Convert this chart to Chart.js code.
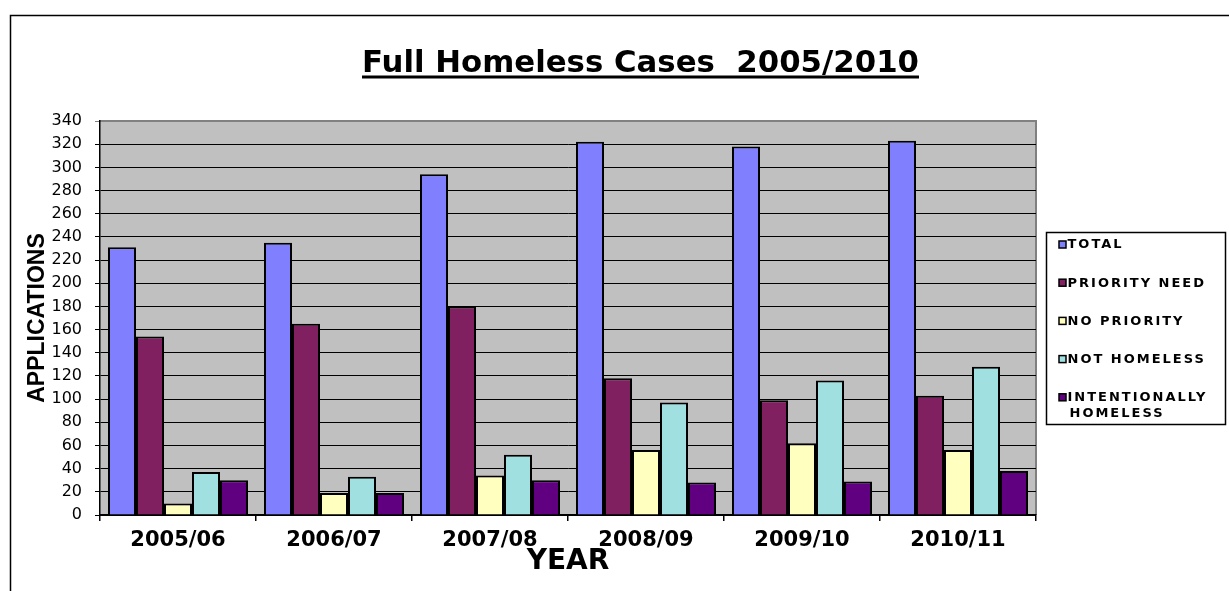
<!DOCTYPE html>
<html><head><meta charset="utf-8">
<script src="https://cdn.jsdelivr.net/npm/chart.js@4.4.1/dist/chart.umd.min.js"></script>
<style>html,body{margin:0;padding:0;background:#fff;overflow:hidden}</style>
</head><body>
<canvas id="c" width="1229" height="591"></canvas>
<script>
const chartTitle = 'Full Homeless Cases  2005/2010';
const xTitle = 'YEAR';
const yTitle = 'APPLICATIONS';
const categories = ['2005/06', '2006/07', '2007/08', '2008/09', '2009/10', '2010/11'];
const seriesNames = ['TOTAL', 'PRIORITY NEED', 'NO PRIORITY', 'NOT HOMELESS', 'INTENTIONALLY HOMELESS'];
const total = [231, 235, 294, 322, 318, 323];
const priorityNeed = [154, 165, 180, 118, 99, 103];
const noPriority = [10, 19, 34, 56, 62, 56];
const notHomeless = [37, 33, 52, 97, 116, 128];
const intentionallyHomeless = [30, 19, 30, 28, 29, 38];
const yMin = 0, yMax = 340, yStep = 20;

const seriesValues = [total, priorityNeed, noPriority, notHomeless, intentionallyHomeless];
const seriesColors = ['#8080ff', '#802060', '#ffffc0', '#a0e0e0', '#600080'];

const framePlugin = {
  id: 'frame',
  beforeDraw(chart) {
    const ctx = chart.ctx, a = chart.chartArea;
    ctx.save();
    ctx.fillStyle = '#fff';
    ctx.fillRect(0, 0, chart.width, chart.height);
    ctx.strokeStyle = '#000';
    ctx.lineWidth = 1.5;
    ctx.strokeRect(10.5, 15.5, chart.width + 40, chart.height + 40);
    ctx.fillStyle = '#c0c0c0';
    ctx.fillRect(a.left, a.top, a.right - a.left, a.bottom - a.top);
    ctx.strokeStyle = '#808080';
    ctx.lineWidth = 2;
    ctx.beginPath();
    ctx.moveTo(a.left, a.top);
    ctx.lineTo(a.right, a.top);
    ctx.lineTo(a.right, a.bottom);
    ctx.stroke();
    // title, underlined
    ctx.font = 'bold 30px "DejaVu Sans"';
    const w = ctx.measureText(chartTitle).width;
    const targetW = 557, cx = 640.5, base = 72;
    ctx.translate(cx, base);
    ctx.scale(targetW / w, 1);
    ctx.fillStyle = '#000';
    ctx.textAlign = 'center';
    ctx.textBaseline = 'alphabetic';
    ctx.fillText(chartTitle, 0, 0);
    ctx.restore();
    ctx.save();
    ctx.fillStyle = '#000';
    ctx.fillRect(cx - targetW / 2, base + 3.5, targetW, 3);
    ctx.restore();
  }
};

const legendPlugin = {
  id: 'boxLegend',
  afterDraw(chart) {
    const ctx = chart.ctx;
    const bx = 1046.5, by = 232.5, bw = 179, bh = 192;
    ctx.save();
    ctx.strokeStyle = '#000';
    ctx.lineWidth = 1.5;
    ctx.strokeRect(bx, by, bw, bh);
    ctx.font = 'bold 13px "DejaVu Sans"';
    ctx.letterSpacing = '2px';
    ctx.textBaseline = 'middle';
    ctx.textAlign = 'left';
    const textX = bx + 21, maxW = bw - 24;
    chart.data.datasets.forEach((ds, i) => {
      const cy = by + 12.5 + i * 38.2;
      ctx.fillStyle = ds.backgroundColor;
      ctx.fillRect(bx + 12.5, cy - 4, 7, 7);
      ctx.strokeStyle = '#000';
      ctx.lineWidth = 1.5;
      ctx.strokeRect(bx + 12.5, cy - 4, 7, 7);
      const words = ds.label.split(' ');
      const lines = [];
      let cur = '';
      words.forEach(wd => {
        const test = cur ? cur + ' ' + wd : wd;
        if (cur && ctx.measureText(test).width > maxW) { lines.push(cur); cur = wd; }
        else cur = test;
      });
      lines.push(cur);
      ctx.fillStyle = '#000';
      lines.forEach((ln, k) => ctx.fillText(ln, textX + (k ? 2 : 0), cy + k * 16));
    });
    ctx.restore();
  }
};

new Chart(document.getElementById('c'), {
  type: 'bar',
  data: {
    labels: categories,
    datasets: seriesNames.map((name, i) => ({
      label: name,
      data: seriesValues[i],
      backgroundColor: seriesColors[i],
      borderColor: '#000',
      borderWidth: 2,
      categoryPercentage: 140 / 156,
      barPercentage: 1.0,
      inflateAmount: 0
    }))
  },
  options: {
    responsive: false,
    animation: false,
    devicePixelRatio: 1,
    layout: { padding: { left: 10, right: 193, top: 121, bottom: 0 } },
    plugins: { legend: { display: false }, title: { display: false }, tooltip: { enabled: false } },
    scales: {
      x: {
        grid: { offset: true, drawOnChartArea: false, color: '#000', tickLength: 6, lineWidth: 1.5 },
        border: { color: '#000', width: 2 },
        ticks: { color: '#000', font: { family: 'DejaVu Sans', size: 21, weight: 'bold' }, padding: 7, maxRotation: 0 },
        title: { display: true, text: xTitle, color: '#000', font: { family: 'DejaVu Sans', size: 28, weight: 'bold' }, padding: { top: 0, bottom: 12 } },
        afterFit(s) { s.height = 76; }
      },
      y: {
        min: yMin, max: yMax,
        ticks: { stepSize: yStep, color: '#000', font: { family: 'DejaVu Sans', size: 16 }, padding: 13 },
        grid: { color: c => (c.tick && c.tick.value === yMax ? '#808080' : '#000'), lineWidth: 1, tickLength: 5 },
        border: { color: '#000', width: 1.5 },
        title: { display: true, text: yTitle, color: '#000', font: { family: 'Liberation Sans', size: 23, weight: 'bold' }, padding: { top: 14, bottom: 0 } },
        afterFit(s) { s.width = 90; }
      }
    }
  },
  plugins: [framePlugin, legendPlugin]
});
</script>
</body></html>
